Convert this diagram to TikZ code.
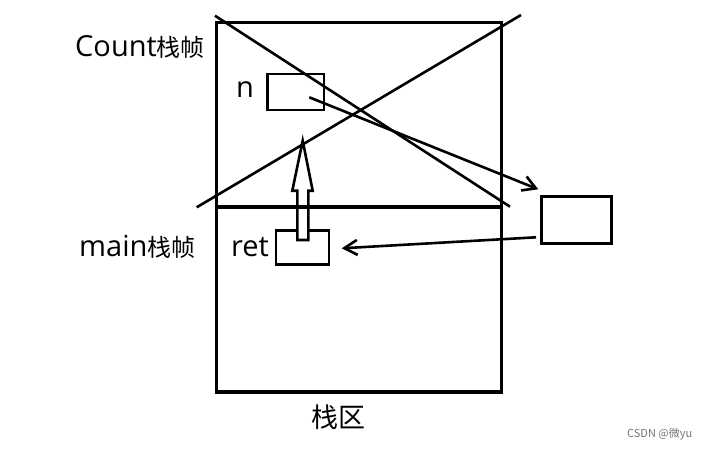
\documentclass[tikz,border=0pt]{standalone}
\usepackage{fontspec}
\setmainfont{Open Sans}
\newfontfamily\cjk{Noto Sans CJK SC}
\usetikzlibrary{arrows.meta}
\newcommand\zhtxt[1]{{\cjk\fontsize{24}{28}\selectfont #1}}
\tikzset{
  box/.style={draw, line width=2.6pt, inner sep=0pt},
  ptr/.style={line width=2.6pt, -{Straight Barb[length=13pt,width=15pt,line width=2.6pt]}},
  lbl/.style={anchor=base west, inner sep=0pt, font=\fontsize{29}{34}\selectfont},
}
\begin{document}
\begin{tikzpicture}[x=1pt,y=-1pt]
\useasboundingbox (0,0) rectangle (704,448);
% stack area
\draw[line width=3.2pt] (216.5,22.7) rectangle (501.3,392);
\node[box, minimum width=56.7pt, minimum height=36pt] (nbox) at (295.7,92) {};
\node[box, minimum width=53pt, minimum height=34pt] (retbox) at (302.5,247.2) {};
\node[box, minimum width=70pt, minimum height=47pt] (heapbox) at (576.7,219.7) {};
% hollow arrow ret -> n
\draw[line width=2.6pt, fill=white] (297.3,240) -- (297.3,190.7) -- (292.3,190.7)
  -- (302.7,140.7) -- (312.7,190.7) -- (308.3,190.7) -- (308.3,240) -- cycle;
\draw[line width=4.2pt] (216.5,207.3) -- (501.3,207.3);
% frame destroyed
\draw[line width=2.6pt] (215,15.7) -- (510,206.7);
\draw[line width=2.6pt] (521,15) -- (196.7,207.3);
% pointers
\coordinate (nval) at (309.3,97.3);
\coordinate (heapin) at (538.3,189.3);
\coordinate (heapout) at (536,237.3);
\coordinate (retin) at (341.7,248.3);
\draw[ptr] (nval) -- (heapin);
\draw[ptr] (heapout) -- (retin);
% labels
\node[lbl] (countlbl) at (75,56) {Count\zhtxt{栈帧}};
\node[lbl] (nlbl) at (236,97.3) {n};
\node[lbl] (mainlbl) at (79,256) {main\zhtxt{栈帧}};
\node[lbl] (retlbl) at (231,256) {ret};
\node[lbl, font=\cjk\fontsize{27}{32}\selectfont] (stacklbl) at (311,427) {栈区};
\node[lbl, font=\cjk\fontsize{11}{13}\selectfont, text=black!55] (mark) at (627,437) {CSDN @微yu};
\end{tikzpicture}
\end{document}
